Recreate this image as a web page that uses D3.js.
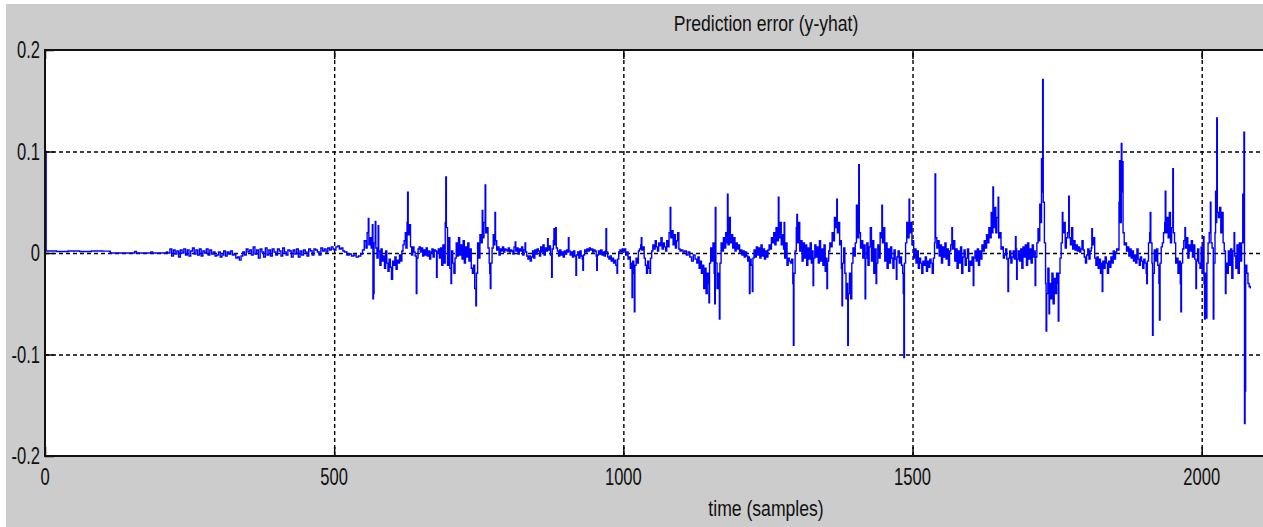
<!DOCTYPE html>
<html><head><meta charset="utf-8">
<script src="https://cdn.jsdelivr.net/npm/d3@7"></script>
<style>html,body{margin:0;padding:0;background:#fff;overflow:hidden}</style>
</head><body><svg id="c" width="1263" height="527"></svg>
<script>
const titleText = "Prediction error (y-yhat)";
const xLabelText = "time (samples)";
const xTicks = [0, 500, 1000, 1500, 2000];
const xTickLabels = ["0", "500", "1000", "1500", "2000"];
const yTicks = [-0.2, -0.1, 0, 0.1, 0.2];
const yTickLabels = ["-0.2", "-0.1", "0", "0.1", "0.2"];

// prediction error, [sample, value]
const err0to500 = [[1,0.1],[2,0.002],[20,0.0015],[40,0.002],[60,0.0015],[80,0.002],[100,0.0018],[112,0.0015],[113,0],[150,0],[155,0.0015],[158,0],[180,0],[183,0.001],[186,0],[205,0],[210,0.001],[212,0],
[216,0.004],[219,-0.003],[222,0.003],[225,-0.001],[228,0.002],[231,-0.004],[234,0.003],[237,0],[240,0.004],[243,-0.002],[246,0.003],[249,-0.003],[252,0.002],[255,0.005],[258,-0.001],[261,0.003],[264,-0.002],[267,0.004],[270,-0.003],[273,0.002],[276,0],[279,0.004],[282,-0.002],[285,0.003],[288,-0.001],[291,0.001],[294,-0.003],[297,-0.002],[300,0.001],[303,-0.004],[306,-0.002],[309,0.002],[312,-0.003],[315,0.001],[318,-0.001],[321,0.002],[324,-0.002],[327,-0.001],[330,-0.005],[333,-0.004],[336,-0.007],[339,-0.003],[342,0.001],[345,-0.002],[348,0.004],[351,0.001],[354,0.003],[357,-0.002],[360,0.006],[363,-0.001],[366,0.003],[369,-0.005],[372,0.004],[375,0.001],[378,-0.004],[381,0.005],[384,-0.002],[387,0.003],[390,-0.003],[393,0.004],[396,0.001],[399,-0.002],[402,0.004],[405,0.002],[408,-0.003],[411,0.005],[414,0.001],[417,-0.002],[420,0.003],[423,0.002],[426,-0.004],[429,0.003],[432,-0.001],[435,0.004],[438,-0.004],[441,0.002],[444,-0.002],[447,0.003],[450,0.001],[453,-0.003],[456,0.004],[459,0.002],[462,-0.002],[465,0.004],[468,0.003],[471,0.001],[474,-0.002],[477,0.005],[480,0.002],[483,0.004],[486,0.001],[489,0.005],[492,0.003],[495,0.006],[498,0.004]];

const err500to1000 = [[500,0.003],[503,0.006],[506,0.007],[509,0.004],[512,0.005],[515,0.002],[518,0.001],[522,-0.002],[526,-0.001],[530,-0.003],[534,-0.002],[538,-0.004],[542,-0.003],[546,-0.001],[549,0.003],[552,0.012],[555,0.005],[557,0.02],[559,0.034],[560,0.008],[562,0.015],[564,0.005],[566,0.028],[567,-0.045],[568,-0.04],[569,0.01],[571,0.031],[572,0.005],[574,-0.005],[576,0.027],[577,0.002],[579,-0.012],[581,0.004],[583,-0.008],[585,-0.003],[587,-0.015],[589,0.002],[591,-0.01],[593,-0.018],[595,-0.006],[597,-0.014],[599,-0.026],[601,-0.008],[603,-0.012],[605,-0.004],[607,-0.016],[609,-0.007],[611,-0.01],[613,-0.002],[615,-0.008],[617,0.002],[619,0.008],[621,0.012],[623,0.02],[624,0.005],[626,0.03],[627,0.06],[628,0.018],[630,0.028],[632,0.006],[634,-0.002],[636,0.006],[638,0.001],[640,-0.003],[642,-0.04],[643,-0.005],[645,0.004],[647,0.006],[649,0.001],[651,0.005],[653,-0.003],[655,0.003],[657,-0.002],[659,0.005],[661,-0.003],[663,0.002],[665,-0.006],[667,0.001],[669,0.004],[671,-0.004],[673,0.003],[675,0.002],[677,-0.024],[678,0.001],[680,0.004],[682,-0.005],[684,0.005],[686,-0.012],[688,0.008],[690,-0.01],[692,0.03],[693,0.075],[694,0.025],[696,-0.012],[698,0.015],[700,-0.015],[702,-0.03],[703,0.002],[705,-0.01],[707,-0.02],[709,-0.005],[711,0.01],[713,-0.003],[715,0.015],[717,-0.002],[719,0.008],[721,-0.006],[723,0.012],[725,-0.01],[727,0.006],[729,-0.004],[731,0.01],[733,-0.008],[735,0.004],[737,-0.015],[739,-0.02],[741,-0.012],[743,-0.035],[745,-0.052],[746,-0.02],[748,0.01],[750,-0.005],[752,0.018],[754,0.01],[756,0.042],[757,0.015],[759,0.03],[761,0.067],[762,0.02],[764,0.025],[766,0.005],[768,-0.01],[769,-0.02],[770,-0.035],[771,-0.01],[773,0.005],[775,0.018],[777,0.008],[778,0.04],[779,0.012],[781,0.003],[783,0.006],[785,-0.002],[787,0.004],[789,0.002],[791,0.006],[793,0.001],[795,0.004],[797,0.003],[799,0.002],[801,0.005],[803,0.001],[805,0.003],[807,0.002],[809,-0.001],[811,0.006],[813,0.011],[814,0.002],[816,0.005],[818,-0.001],[820,0.004],[822,0.002],[824,0.006],[826,-0.002],[828,0.003],[830,0.01],[831,0.001],[833,-0.003],[835,-0.006],[837,-0.003],[839,-0.008],[841,-0.004],[843,0.002],[845,-0.005],[847,0.003],[849,-0.001],[851,0.004],[853,0.002],[855,-0.003],[857,0.006],[859,0.001],[861,0.008],[863,-0.002],[865,0.005],[867,0.002],[869,0.014],[870,0.003],[872,0.007],[874,-0.002],[876,-0.024],[877,0.004],[879,0.012],[880,0.024],[881,0.008],[883,0.025],[884,0.005],[886,0.002],[888,-0.003],[890,0.003],[892,-0.002],[894,0.001],[896,-0.004],[898,0.002],[900,-0.001],[902,0.003],[904,0.001],[905,0.015],[906,0.002],[908,-0.002],[910,0.001],[912,-0.004],[914,0.002],[916,-0.003],[918,-0.022],[919,-0.002],[921,0.001],[923,-0.005],[925,0.002],[927,-0.003],[929,-0.006],[930,-0.017],[931,-0.002],[933,0.003],[935,0.001],[937,0.004],[939,0.002],[941,0.005],[943,0.003],[945,0.004],[947,0.001],[949,0.003],[951,0.002],[953,-0.003],[954,-0.017],[955,-0.002],[957,0.002],[959,-0.001],[961,0.003],[963,-0.002],[965,0.001],[967,-0.003],[969,0.002],[970,0.024],[971,0.001],[973,-0.004],[975,-0.006],[977,-0.003],[979,-0.008],[981,-0.005],[983,-0.01],[985,-0.007],[987,-0.012],[989,-0.02],[990,-0.006],[992,0.001],[994,0.003],[996,0.001],[998,0.004]];

const err1000to1500 = [[1000,0.002],[1002,0.004],[1004,-0.002],[1006,0.001],[1008,-0.006],[1010,-0.004],[1012,-0.015],[1014,-0.01],[1015,-0.044],[1016,-0.008],[1018,-0.02],[1019,-0.058],[1020,-0.012],[1022,-0.005],[1024,-0.01],[1026,0.002],[1028,0.004],[1030,0.008],[1031,0.015],[1032,0.003],[1034,0.006],[1036,-0.005],[1038,-0.012],[1040,-0.02],[1042,-0.008],[1044,-0.015],[1046,-0.02],[1047,-0.005],[1049,0.002],[1051,0.008],[1053,0.004],[1055,0.012],[1057,0.006],[1059,0.002],[1061,0.01],[1063,0.007],[1065,0.015],[1067,0.004],[1069,0.01],[1071,0.006],[1073,0.002],[1075,0.012],[1077,0.006],[1079,0.02],[1081,0.045],[1082,0.015],[1084,0.022],[1086,0.008],[1088,0.018],[1090,0.005],[1092,0.012],[1094,0.02],[1096,0.004],[1098,0.002],[1100,0.003],[1103,0.001],[1106,0.002],[1109,-0.002],[1112,0.001],[1115,-0.004],[1118,-0.008],[1121,-0.002],[1124,-0.006],[1127,-0.01],[1129,-0.004],[1131,-0.015],[1133,-0.008],[1135,-0.02],[1137,-0.012],[1139,-0.035],[1141,-0.015],[1143,-0.04],[1145,-0.02],[1147,-0.03],[1148,-0.049],[1149,-0.01],[1151,0.005],[1153,-0.008],[1155,0.01],[1157,-0.02],[1158,-0.05],[1159,0.045],[1160,-0.01],[1162,-0.035],[1164,-0.02],[1166,-0.065],[1167,-0.01],[1169,0.01],[1171,0.002],[1173,0.015],[1175,0.005],[1177,0.02],[1179,0.01],[1180,0.058],[1181,0.008],[1183,0.035],[1185,0.01],[1187,0.018],[1189,0.005],[1191,0.015],[1193,0.002],[1195,0.01],[1197,0.004],[1199,0.008],[1201,0.001],[1203,0.003],[1205,-0.002],[1207,0.002],[1209,-0.004],[1211,0.001],[1213,-0.003],[1215,-0.008],[1217,-0.004],[1218,-0.04],[1219,-0.006],[1221,-0.012],[1223,-0.038],[1224,-0.005],[1226,0.003],[1228,-0.004],[1230,0.006],[1232,-0.002],[1234,0.005],[1236,-0.005],[1238,0.008],[1240,-0.003],[1242,0.004],[1244,-0.006],[1246,0.002],[1248,-0.004],[1250,0.003],[1252,0.008],[1254,0.004],[1256,0.015],[1258,0.01],[1260,0.02],[1262,0.008],[1264,0.025],[1266,0.012],[1268,0.055],[1269,0.015],[1271,0.03],[1273,0.008],[1275,0.018],[1277,0.004],[1278,0.03],[1279,-0.005],[1281,0.01],[1283,-0.012],[1285,-0.005],[1287,-0.008],[1289,-0.01],[1291,-0.006],[1293,-0.03],[1294,-0.091],[1295,-0.02],[1297,0.002],[1299,0.025],[1300,0.038],[1301,0.01],[1303,0.03],[1305,0.002],[1307,0.012],[1309,-0.008],[1311,0.01],[1313,-0.005],[1315,0.008],[1317,-0.012],[1319,0.005],[1321,-0.006],[1323,0.01],[1325,-0.01],[1327,0.002],[1328,-0.032],[1329,-0.005],[1331,0.008],[1333,-0.004],[1335,0.006],[1337,-0.01],[1339,0.012],[1341,-0.008],[1343,0.004],[1345,-0.012],[1347,0.008],[1349,-0.018],[1351,-0.005],[1352,-0.035],[1353,-0.008],[1355,0.002],[1357,0.01],[1359,0.006],[1361,0.02],[1363,0.012],[1365,0.035],[1367,0.025],[1369,0.053],[1370,0.02],[1372,0.03],[1374,0.008],[1376,0.012],[1377,-0.015],[1378,-0.052],[1379,-0.01],[1381,0.005],[1383,-0.02],[1385,-0.045],[1387,-0.03],[1388,-0.091],[1389,-0.04],[1391,-0.02],[1393,-0.045],[1395,-0.01],[1397,0.005],[1399,-0.003],[1401,0.01],[1403,0.047],[1405,0.015],[1407,0.087],[1408,0.02],[1410,0.005],[1412,0.012],[1414,-0.005],[1416,0.008],[1418,-0.045],[1419,-0.005],[1421,0.01],[1423,-0.012],[1425,0.006],[1427,0.025],[1429,-0.008],[1431,0.012],[1433,-0.02],[1435,0.004],[1437,-0.03],[1438,-0.01],[1440,0.008],[1442,-0.005],[1444,0.02],[1446,0.015],[1447,0.047],[1448,0.01],[1450,0.025],[1452,-0.008],[1454,0.01],[1456,-0.015],[1458,0.004],[1460,-0.01],[1462,0.006],[1464,-0.005],[1466,-0.015],[1468,0.003],[1470,-0.006],[1472,-0.026],[1473,-0.004],[1475,0.002],[1477,-0.01],[1479,-0.004],[1481,-0.012],[1483,-0.02],[1484,-0.04],[1485,-0.103],[1486,-0.01],[1488,0.01],[1490,0.03],[1492,0.015],[1494,0.053],[1495,0.02],[1497,0.03],[1499,0.008]];

const err1500toEnd = [[1500,0.012],[1502,-0.005],[1504,0.004],[1506,-0.01],[1508,0.002],[1510,-0.015],[1512,-0.005],[1514,-0.01],[1516,-0.02],[1518,-0.008],[1520,-0.012],[1522,-0.004],[1524,-0.018],[1526,-0.008],[1528,-0.014],[1530,-0.006],[1532,-0.01],[1534,-0.02],[1536,-0.005],[1538,0.01],[1539,0.078],[1540,0.015],[1542,0.005],[1544,0.012],[1546,-0.003],[1548,0.008],[1550,-0.01],[1552,0.006],[1554,-0.004],[1556,0.01],[1558,-0.006],[1560,0.004],[1562,-0.012],[1564,0.002],[1566,0.008],[1568,0.025],[1569,0.004],[1571,0.012],[1573,-0.008],[1575,0.004],[1577,-0.015],[1579,0.002],[1581,-0.01],[1583,0.006],[1585,-0.02],[1587,-0.004],[1589,0.003],[1591,-0.012],[1593,-0.005],[1595,0.004],[1597,-0.018],[1599,-0.008],[1601,-0.012],[1603,-0.004],[1605,-0.032],[1606,-0.005],[1608,0.002],[1610,-0.008],[1612,0.004],[1614,-0.012],[1616,0.002],[1618,-0.006],[1620,0.008],[1622,0.002],[1624,0.012],[1626,0.005],[1628,0.018],[1630,0.01],[1632,0.025],[1634,0.015],[1636,0.04],[1638,0.02],[1639,0.065],[1640,0.025],[1642,0.045],[1644,0.02],[1646,0.035],[1648,0.055],[1649,0.015],[1651,0.02],[1653,0.004],[1655,0.006],[1657,-0.005],[1659,-0.002],[1661,0.004],[1663,-0.006],[1665,-0.038],[1666,-0.005],[1668,0.002],[1670,-0.01],[1672,-0.004],[1674,0.002],[1676,-0.006],[1678,0.016],[1679,0.004],[1680,-0.026],[1681,-0.006],[1683,0.002],[1685,-0.008],[1687,0.004],[1689,-0.015],[1691,0.006],[1693,-0.004],[1695,0.008],[1697,-0.012],[1699,0.01],[1701,-0.006],[1703,0.004],[1705,-0.01],[1707,0.008],[1709,-0.004],[1711,0.002],[1712,-0.032],[1713,-0.004],[1715,0.01],[1717,0.024],[1719,0.012],[1720,0.048],[1721,0.03],[1723,0.093],[1724,0.06],[1725,0.171],[1726,0.05],[1728,0.01],[1730,-0.03],[1731,-0.077],[1732,-0.04],[1734,-0.015],[1736,-0.06],[1737,-0.03],[1739,-0.045],[1741,-0.02],[1743,-0.05],[1745,-0.025],[1747,-0.04],[1749,-0.02],[1751,-0.03],[1752,-0.067],[1753,-0.02],[1755,-0.005],[1757,0.01],[1759,0.04],[1760,0.02],[1762,0.03],[1764,0.005],[1766,0.015],[1768,0.02],[1770,0.056],[1771,0.015],[1773,0.008],[1775,0.025],[1777,0.004],[1779,0.012],[1781,0.003],[1783,0.008],[1785,0.002],[1787,0.006],[1789,0.001],[1791,0.004],[1793,0.012],[1795,0.003],[1797,-0.004],[1799,-0.01],[1801,-0.002],[1803,0.004],[1805,-0.006],[1807,0.002],[1809,0.005],[1810,0.024],[1811,0.008],[1813,0.015],[1815,-0.005],[1817,-0.012],[1819,-0.004],[1821,-0.015],[1823,-0.006],[1825,-0.02],[1827,-0.01],[1828,-0.038],[1829,-0.008],[1831,-0.015],[1833,-0.004],[1835,-0.01],[1837,-0.02],[1839,-0.008],[1841,-0.014],[1843,-0.004],[1845,-0.01],[1847,0.002],[1849,-0.006],[1851,0.001],[1853,0.004],[1855,0.003],[1857,0.05],[1858,0.091],[1859,0.03],[1861,0.108],[1862,0.06],[1863,0.09],[1864,0.02],[1866,0.008],[1868,0.01],[1870,0.002],[1872,0.006],[1874,-0.003],[1876,0.004],[1878,-0.005],[1880,0.002],[1882,-0.008],[1884,-0.002],[1886,-0.01],[1888,0.004],[1890,-0.006],[1892,-0.012],[1894,-0.004],[1896,-0.008],[1898,-0.015],[1900,-0.006],[1902,-0.01],[1904,-0.02],[1905,-0.03],[1906,-0.008],[1908,0.01],[1910,0.02],[1911,0.04],[1912,0.01],[1914,-0.01],[1915,-0.081],[1916,-0.02],[1918,0.003],[1920,-0.008],[1922,0.004],[1924,-0.012],[1926,-0.03],[1927,-0.066],[1928,-0.01],[1930,0.006],[1932,0.01],[1934,0.02],[1936,0.03],[1937,0.061],[1938,0.02],[1940,0.035],[1942,0.015],[1944,0.04],[1946,0.01],[1948,0.025],[1950,0.083],[1951,0.02],[1953,0.01],[1955,-0.01],[1957,-0.005],[1959,-0.02],[1961,-0.008],[1963,-0.03],[1964,-0.058],[1965,-0.01],[1967,0.004],[1969,0.012],[1971,0.025],[1972,0.005],[1974,0.015],[1976,-0.005],[1978,0.008],[1980,0.002],[1982,0.012],[1984,-0.004],[1986,0.008],[1988,-0.006],[1990,-0.035],[1991,-0.008],[1993,0.004],[1995,-0.01],[1997,-0.015],[1999,0.006],[2001,-0.02],[2003,0.016],[2004,-0.03],[2005,-0.065],[2006,-0.02],[2008,-0.064],[2009,-0.01],[2011,0.01],[2013,0.02],[2015,0.05],[2016,0.01],[2018,0.005],[2020,-0.065],[2021,-0.01],[2023,0.02],[2024,0.061],[2025,0.03],[2026,0.133],[2027,0.04],[2029,0.035],[2031,0.045],[2033,0.02],[2035,0.04],[2037,0.01],[2039,0.002],[2041,-0.04],[2042,-0.01],[2044,-0.02],[2046,0.002],[2048,-0.012],[2050,0.004],[2052,-0.025],[2054,0.002],[2056,0.02],[2057,-0.003],[2059,-0.015],[2061,0.008],[2063,-0.02],[2065,0.01],[2067,-0.008],[2069,0.01],[2071,0.058],[2072,0.01],[2073,0.119],[2074,-0.168],[2075,-0.136],[2076,-0.012],[2078,-0.02],[2080,-0.03],[2082,-0.033],[2084,-0.035]];

const W = 1263, H = 527;
const plotL = 45, plotT = 50, plotB = 456;
const xMax = 2110;
const svg = d3.select("#c");

// figure background (MATLAB gray) with thin white margin top/left
svg.append("rect").attr("x", 0).attr("y", 0).attr("width", W).attr("height", H).attr("fill", "#ffffff");
svg.append("rect").attr("x", 6).attr("y", 4).attr("width", W).attr("height", H).attr("fill", "#cccccc");

const x = d3.scaleLinear().domain([0, xMax]).range([plotL, plotL + xMax * (1156.7 / 2000)]);
const y = d3.scaleLinear().domain([-0.2, 0.2]).range([plotB, plotT]);
const plotR = x(xMax);

svg.append("rect").attr("x", plotL).attr("y", plotT).attr("width", plotR - plotL).attr("height", plotB - plotT).attr("fill", "#ffffff");

// grid lines
const gx = svg.append("g").attr("transform", `translate(0,${plotB})`)
  .call(d3.axisBottom(x).tickValues(xTicks.filter(v => v > 0)).tickSize(-(plotB - plotT)).tickFormat(""));
gx.select(".domain").remove();
gx.selectAll("line").attr("stroke", "#000").attr("stroke-width", 1.4).attr("stroke-dasharray", "4,3");
const gy = svg.append("g").attr("transform", `translate(${plotL},0)`)
  .call(d3.axisLeft(y).tickValues(yTicks.filter(v => v > -0.2 && v < 0.2)).tickSize(-(plotR - plotL)).tickFormat(""));
gy.select(".domain").remove();
gy.selectAll("line").attr("stroke", "#000").attr("stroke-width", 1.4).attr("stroke-dasharray", "4,3");

// data line
const data = err0to500.concat(err500to1000, err1000to1500, err1500toEnd);
svg.append("clipPath").attr("id", "pc").append("rect")
  .attr("x", plotL).attr("y", plotT).attr("width", plotR - plotL).attr("height", plotB - plotT);
svg.append("path").datum(data)
  .attr("clip-path", "url(#pc)")
  .attr("fill", "none").attr("stroke", "#0000ff").attr("stroke-width", 1.4)
  .attr("d", d3.line().curve(d3.curveStepAfter).x(d => x(d[0])).y(d => y(d[1])));

// inner tick marks on all sides
function ticks(gen, tr) {
  const g = svg.append("g").attr("transform", tr).call(gen);
  g.select(".domain").remove();
  g.selectAll("line").attr("stroke", "#000").attr("stroke-width", 1.5);
  g.selectAll("text").remove();
}
ticks(d3.axisBottom(x).tickValues(xTicks).tickSize(-9), `translate(0,${plotB})`);
ticks(d3.axisTop(x).tickValues(xTicks).tickSize(-9), `translate(0,${plotT})`);
ticks(d3.axisLeft(y).tickValues(yTicks).tickSize(-9), `translate(${plotL},0)`);

// box
svg.append("rect").attr("x", plotL).attr("y", plotT).attr("width", plotR - plotL).attr("height", plotB - plotT)
  .attr("fill", "none").attr("stroke", "#111").attr("stroke-width", 2);

// text helper (condensed look)
function label(str, px, py, fs, sx, anchor) {
  svg.append("g").attr("transform", `translate(${px},${py}) scale(${sx},1)`)
    .append("text").attr("text-anchor", anchor)
    .attr("font-family", "'Liberation Sans', Arial, sans-serif")
    .attr("font-size", fs).attr("fill", "#111").text(str);
}
yTicks.forEach((v, i) => label(yTickLabels[i], 40, y(v) + 8, 23, 0.72, "end"));
xTicks.forEach((v, i) => label(xTickLabels[i], x(v), 485, 23, 0.72, "middle"));
label(titleText, 766, 31, 22, 0.8, "middle");
label(xLabelText, 766, 516, 22, 0.8, "middle");
</script></body></html>
